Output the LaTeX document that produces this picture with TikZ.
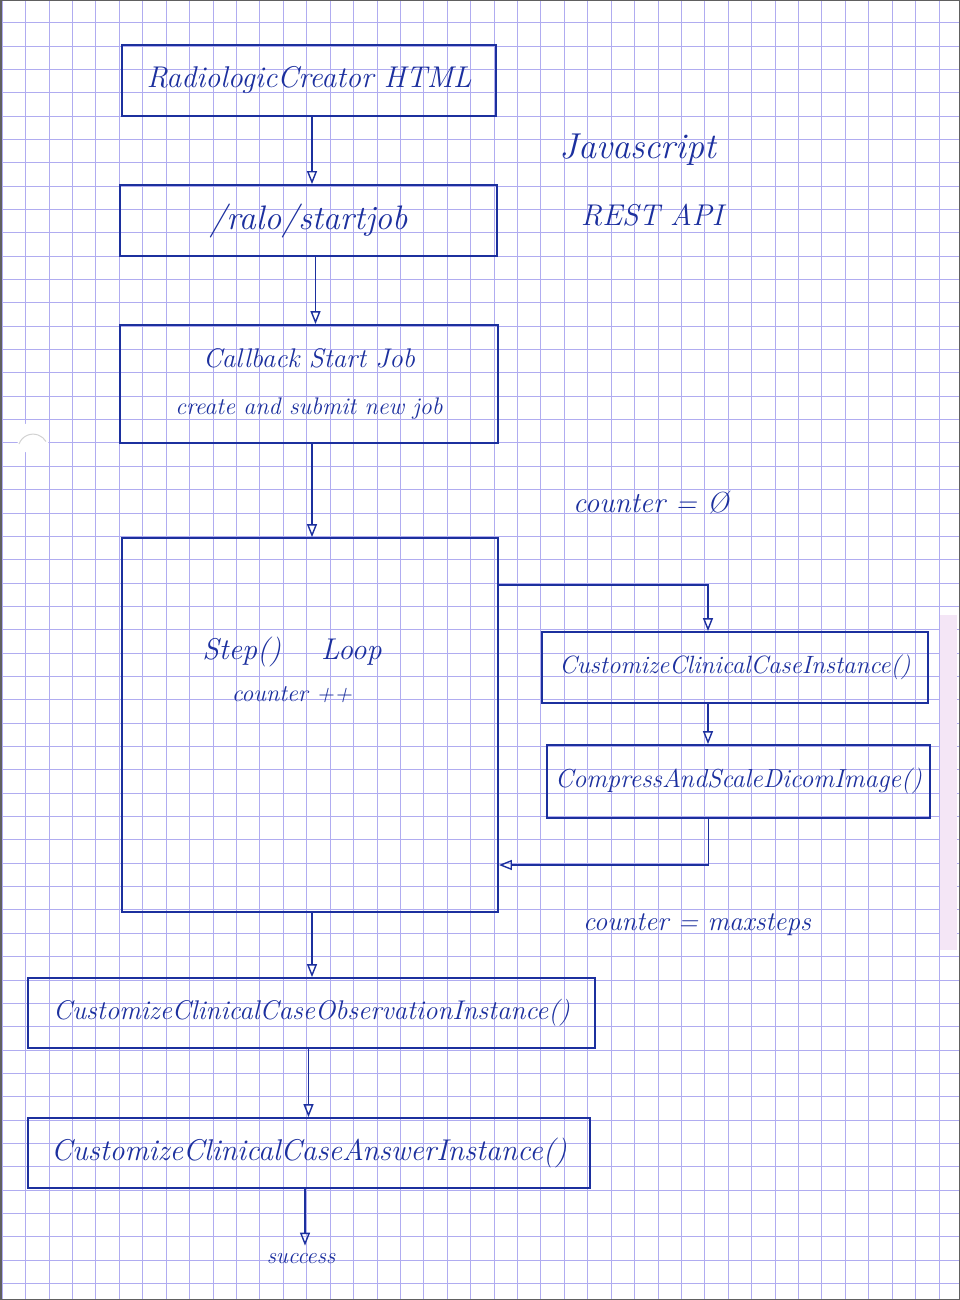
\documentclass[tikz,border=0pt]{standalone}
\usepackage{fontspec}
\usepackage{tikz}
\usetikzlibrary{
	arrows.meta,
	positioning
}

\definecolor{ink}{RGB}{28,48,158}
\definecolor{paper}{RGB}{176,172,240}
\definecolor{scanstrip}{RGB}{244,230,246}

\tikzset{
	box/.style={draw=ink, line width=1.8pt, inner sep=0pt, align=center},
	flow/.style={draw=ink, line width=1.6pt, -{Triangle[open, length=13pt, width=10pt, line width=1.4pt]}},
	hand/.style={text=ink, inner sep=0pt, font=\fontsize{#1pt}{#1pt}\selectfont\itshape},
	gridline/.style={draw=paper, line width=1.2pt}
}

\begin{document}
\begin{tikzpicture}[x=1pt, y=-1pt]

	\useasboundingbox (0,0) rectangle (960,1300);

	% squared paper
	\foreach \i in {0,...,40}
		\draw[gridline] ({int(2.3+23.42*\i)+0.5},0) -- ++(0,1300);
	\foreach \j in {1,...,55}
		\draw[gridline] (0,{int(23.35*\j-0.7)+0.5}) -- ++(960,0);

	\fill[scanstrip] (940,615) rectangle (957,950);
	\fill[white] (33,438) circle (16);
	\draw[gray!35, line width=1pt] (19,444) arc (200:330:15);

	\draw[gray!75!black, line width=3pt] (0,0) rectangle (960,1300);

	% main column
	\node[box, hand=30, minimum width=374pt, minimum height=71pt] (html) at (309,80.5) {RadiologicCreator HTML};
	\node[box, hand=34, minimum width=377pt, minimum height=71pt] (startjob) at (308.5,220.5) {/ralo/startjob};
	\node[box, hand=27, minimum width=378pt, minimum height=118pt] (callback) at (309,384)
		{Callback Start Job\\[20pt]\fontsize{24pt}{24pt}\selectfont create and submit new job};

	\node[box, minimum width=376pt, minimum height=374pt] (loop) at (310,725) {};
	\node[hand=30, align=center] (steplbl) at (292,670)
		{Step()\hspace{40pt}Loop\\[12pt]\fontsize{24pt}{24pt}\selectfont counter ++};

	\node[box, hand=25, minimum width=386pt, minimum height=71pt] (caseinst) at (735,667.5) {CustomizeClinicalCaseInstance()};
	\node[box, hand=26, minimum width=383pt, minimum height=73pt] (scale) at (738.5,781.5) {CompressAndScaleDicomImage()};

	\node[box, hand=27, minimum width=567pt, minimum height=70pt] (observ) at (311.5,1013) {CustomizeClinicalCaseObservationInstance()};
	\node[box, hand=30, minimum width=562pt, minimum height=70pt] (answer) at (309,1153) {CustomizeClinicalCaseAnswerInstance()};

	\node[hand=23] (success) at (301,1259) {success};

	% side notes
	\node[hand=36] (js) at (638,150) {Javascript};
	\node[hand=30] (rest) at (652,215) {\addfontfeature{LetterSpace=70}REST API};
	\node[hand=29] (cnt0) at (651,503) {counter = \O};
	\node[hand=27] (cntmax) at (697,925) {counter = maxsteps};

	% arrows
	\draw[flow] ([xshift=3pt]html.south) -- ([xshift=3pt]html.south |- startjob.north);
	\draw[flow] ([xshift=7pt]startjob.south) -- ([xshift=7pt]startjob.south |- callback.north);
	\draw[flow] ([xshift=3pt]callback.south) -- ([xshift=3pt]callback.south |- loop.north);
	\draw[flow] ([xshift=2pt]loop.south) -- ([xshift=2pt]loop.south |- observ.north);
	\draw[flow] ([xshift=-3pt]observ.south) -- ([xshift=-3pt]observ.south |- answer.north);
	\draw[flow, shorten >=8pt] ([xshift=-4pt]answer.south) -- ([xshift=-4pt]answer.south |- success.north);

	% loop body
	\draw[flow] (loop.east |- 0,585) -| ([xshift=-27pt]caseinst.north);
	\draw[flow] ([xshift=-27pt]caseinst.south) -- ([xshift=-27pt]caseinst.south |- scale.north);
	\draw[flow] ([xshift=-30pt]scale.south) |- (loop.east |- 0,865);

\end{tikzpicture}
\end{document}
